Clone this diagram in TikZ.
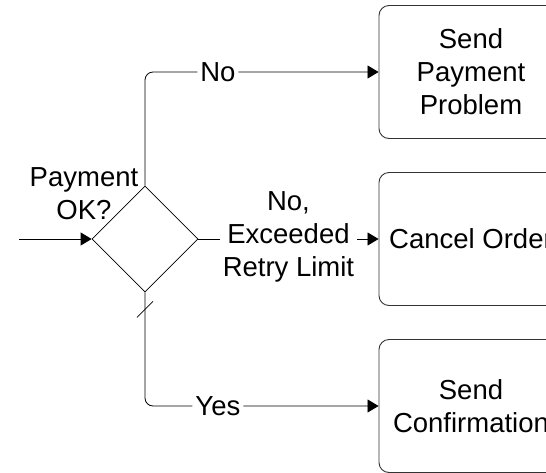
\documentclass[tikz,border=0pt]{standalone}
\usepackage{fontspec}
\setmainfont{Liberation Sans}
\usetikzlibrary{shapes.geometric,arrows.meta,calc}
\begin{document}
\begin{tikzpicture}[x=1pt,y=-1pt,
  txt/.style={font=\fontsize{27.5}{33}\selectfont, align=center},
  dec/.style={draw, shape=diamond, minimum width=106pt, minimum height=106pt, inner sep=0pt, line width=0.8pt},
  task/.style={txt, draw=black!80, line width=0.9pt, rounded corners=10pt, minimum width=184pt, minimum height=133pt, inner sep=0pt},
  flow/.style={line width=0.8pt, -{Triangle[length=11pt,width=13pt]}},
  lbl/.style={txt, fill=white, inner sep=3pt}]
\useasboundingbox (0,0) rectangle (546,472);
\clip (0,0) rectangle (546,472);
\node[dec] (d) at (145,239) {};
\node[txt, anchor=center] (q) at (84,194) {Payment\\OK?};
\node[task] (t1) at (471,72) {Send\\Payment\\Problem};
\node[task] (t2) at (471,239) {Cancel Order};
\node[task] (t3) at (471,406) {Send\\Confirmation};
\coordinate (start) at (19,239);
\draw[flow] (start) -- (d.west);
\draw[flow, rounded corners=8pt] (d.north) |- node[lbl, pos=0.656] {No} (t1.west);
\draw[flow] (d.east) -- node[lbl, yshift=2pt] {No,\\Exceeded\\Retry Limit} (t2.west);
\draw[flow, rounded corners=8pt] (d.south) |- node[lbl, pos=0.656] {Yes} (t3.west);
\draw[line width=0.8pt] ($(d.south)+(-8,25)$) -- ($(d.south)+(8,9)$);
\end{tikzpicture}
\end{document}
